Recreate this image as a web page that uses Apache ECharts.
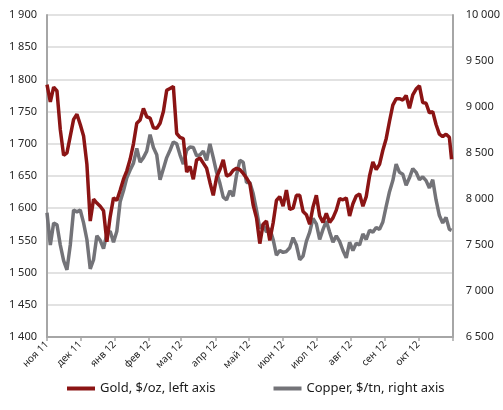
<!DOCTYPE html>
<html>
<head>
<meta charset="utf-8">
<script src="https://cdn.jsdelivr.net/npm/echarts@6/dist/echarts.min.js"></script>
<style>
html,body{margin:0;padding:0;background:#fff;}
#chart{width:503px;height:410px;}
</style>
</head>
<body>
<div id="chart"></div>
<script>
// Daily calendar axis from 1 Nov 2011 to 1 Nov 2012
var startDate = '2011-11-01';
var dayCount = 367;
// Values sampled every 3 calendar days (last sample = 31 Oct 2012)
var sampleStep = 3;
var goldValues = [
1792,1765,1788,1782,1722,1682,1686,1712,1738,1746,1730,1712,1668,1580,1614,1608,1603,1596,1548,1587,
1616,1612,1628,1645,1658,1676,1700,1732,1737,1755,1742,1740,1725,1724,1732,1750,1783,1786,1789,1716,
1710,1708,1656,1665,1645,1675,1678,1670,1662,1640,1620,1648,1660,1675,1650,1652,1659,1662,1660,1654,
1647,1638,1605,1585,1545,1575,1580,1550,1577,1612,1618,1603,1628,1598,1600,1620,1620,1595,1590,1575,
1602,1620,1588,1578,1592,1578,1585,1597,1615,1613,1616,1588,1607,1619,1622,1603,1618,1650,1672,1660,
1668,1690,1708,1735,1760,1770,1770,1768,1775,1755,1776,1785,1790,1764,1763,1748,1750,1730,1715,1711,
1715,1710,1676
];
var copperValues = [
7850,7500,7740,7720,7500,7330,7230,7500,7880,7860,7880,7740,7560,7240,7340,7600,7550,7460,7620,7650,
7530,7650,7970,8090,8230,8315,8390,8550,8400,8450,8520,8700,8560,8480,8210,8330,8450,8530,8620,8600,
8480,8380,8530,8565,8560,8470,8480,8520,8420,8600,8450,8290,8170,8020,7990,8090,8030,8260,8420,8400,
8180,8180,8060,7880,7680,7720,7640,7680,7560,7390,7440,7420,7430,7470,7580,7500,7340,7380,7540,7640,
7790,7730,7560,7670,7760,7640,7530,7600,7540,7440,7360,7530,7440,7520,7500,7620,7560,7660,7640,7690,
7670,7750,7920,8080,8200,8380,8290,8270,8150,8230,8330,8290,8210,8240,8200,8120,8210,7990,7820,7740,
7800,7670,7660
];
var monthLabels = ['ноя 11','дек 11','янв 12','фев 12','мар 12','апр 12','май 12','июн 12','июл 12','авг 12','сен 12','окт 12'];
var seriesNames = ['Gold, $/oz, left axis','Copper, $/tn, right axis'];

var categories = [];
var t0 = Date.parse(startDate + 'T00:00:00Z');
for (var i = 0; i < dayCount; i++) {
  var d = new Date(t0 + i * 86400000);
  categories.push(d.toISOString().slice(0, 10));
}
function buildSeries(vals) {
  var arr = new Array(dayCount).fill(null);
  vals.forEach(function (v, k) {
    var idx = Math.min(k * sampleStep, dayCount - 2);
    arr[idx] = v;
  });
  return arr;
}
function isMonthStart(idx) { return categories[idx].slice(8, 10) === '01'; }
function isLabelled(idx) { return isMonthStart(idx) && idx < dayCount - 1; }
function labelFor(value) {
  var y = +value.slice(0, 4), m = +value.slice(5, 7);
  var n = (y - 2011) * 12 + (m - 11);
  return monthLabels[n] || '';
}
function fmt(v) { return String(v).replace(/\B(?=(\d{3})+(?!\d))/g, ' '); }

var font = 'Noto Sans';
var chart = echarts.init(document.getElementById('chart'), null, {renderer: 'canvas'});
chart.setOption({
  animation: false,
  grid: {left: 47, right: 50, top: 15, bottom: 73, containLabel: false},
  legend: {
    left: 62, top: 377, icon: 'rect', itemWidth: 28, itemHeight: 4, itemGap: 58,
    textStyle: {fontFamily: font, fontSize: 13, color: '#1a1a1a'},
    data: seriesNames
  },
  xAxis: {
    type: 'category', data: categories, boundaryGap: false,
    axisLine: {lineStyle: {color: '#a6a6a6', width: 2}},
    axisTick: {show: true, interval: function (i) { return isMonthStart(i); }, length: 4, lineStyle: {color: '#a6a6a6', width: 1.5}},
    axisLabel: {interval: function (i) { return isLabelled(i); }, rotate: 45, margin: 6, fontFamily: font, fontSize: 10, color: '#262626', formatter: labelFor},
    splitLine: {show: false}
  },
  yAxis: [{
    type: 'value', min: 1400, max: 1900, interval: 50, position: 'left',
    axisLine: {show: true, lineStyle: {color: '#a6a6a6', width: 2}},
    axisTick: {show: false},
    axisLabel: {fontFamily: font, fontSize: 11, color: '#262626', margin: 10, formatter: fmt},
    splitLine: {show: true, lineStyle: {color: '#d9d9d9', width: 1.5}}
  }, {
    type: 'value', min: 6500, max: 10000, interval: 500, position: 'right',
    axisLine: {show: true, lineStyle: {color: '#a6a6a6', width: 2}},
    axisTick: {show: false},
    axisLabel: {fontFamily: font, fontSize: 11, color: '#262626', margin: 13, formatter: fmt},
    splitLine: {show: false}
  }],
  series: [{
    name: seriesNames[0], type: 'line', yAxisIndex: 0, data: buildSeries(goldValues),
    connectNulls: true, showSymbol: false, symbol: 'none', z: 3,
    itemStyle: {color: '#8b1414'}, lineStyle: {color: '#8b1414', width: 3.5}
  }, {
    name: seriesNames[1], type: 'line', yAxisIndex: 1, data: buildSeries(copperValues),
    connectNulls: true, showSymbol: false, symbol: 'none', z: 2,
    itemStyle: {color: '#737378'}, lineStyle: {color: '#737378', width: 3.5}
  }]
});
</script>
</body>
</html>
